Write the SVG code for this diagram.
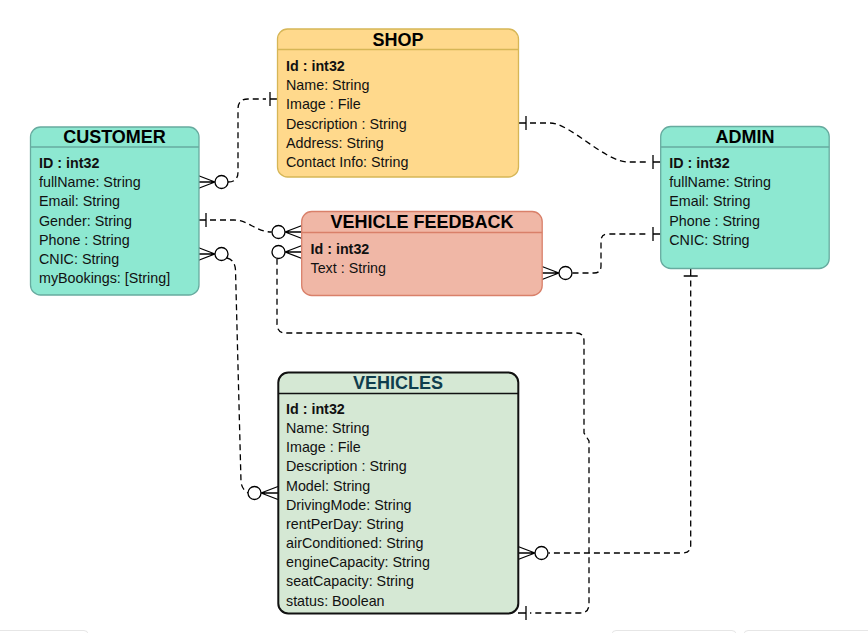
<svg xmlns="http://www.w3.org/2000/svg" xmlns:xlink="http://www.w3.org/1999/xlink" width="868" height="633" viewBox="0 0 868 633">
<style>
  .title { font-family: "Liberation Sans", Arial, sans-serif; font-weight: bold; font-size: 18px; fill: #000; text-anchor: middle; }
  .attr { font-family: "Liberation Sans", Arial, sans-serif; font-size: 14.3px; fill: #111; }
  .pk { font-weight: bold; }
  .conn { fill: none; stroke: #000; stroke-width: 1.3; stroke-dasharray: 6 4; }
  .mk { fill: none; stroke: #000; stroke-width: 1.3; }
  .circ { fill: #fff; stroke: #000; stroke-width: 1.3; }
  .shop { fill: #FFD98C; stroke: #D6B656; stroke-width: 1.3; }
  .teal { fill: #8DE8D1; stroke: #67AB9F; stroke-width: 1.3; }
  .fb { fill: #F0B7A6; stroke: #D9806A; stroke-width: 1.3; }
  .veh { fill: #D5E8D4; stroke: #111; stroke-width: 2; }
  .faint { fill: none; stroke: #e6e6e6; stroke-width: 1; }
</style>
<defs>
  <g id="zm">
    <path class="mk" d="M0 -6.5 L17 0 M0 0 L17 0 M0 6.5 L17 0"/>
    <circle class="circ" cx="23.5" cy="0" r="6.5"/>
  </g>
  <g id="one">
    <path class="mk" d="M0 0 L8 0 M8 -7 L8 7"/>
  </g>
</defs>
<rect width="868" height="633" fill="#fff"/>

<g id="connectors">
  <!-- Customer -> Shop -->
  <path class="conn" d="M228 182 Q238 182 238 172 L238 109 Q238 99 248 99 L266 99"/>
  <use xlink:href="#zm" transform="translate(198,182)"/>
  <use xlink:href="#one" transform="translate(278,99) rotate(180)"/>
  <!-- Customer -> Vehicle Feedback -->
  <path class="conn" d="M210 220 L234 220 C248 220 256 232 271.7 232"/>
  <use xlink:href="#one" transform="translate(198,220)"/>
  <use xlink:href="#zm" transform="translate(302,232) rotate(180)"/>
  <!-- Vehicles -> Vehicle Feedback -->
  <path class="conn" d="M277 258.8 L277 324 Q277 333 286 333 L576 333 Q584 333 584 341 L584 433 L589 441 L589 604 Q589 613 580 613 L530 613"/>
  <use xlink:href="#zm" transform="translate(302,252) rotate(180)"/>
  <use xlink:href="#one" transform="translate(518,613)"/>
  <!-- Customer -> Vehicles -->
  <path class="conn" d="M227 258 Q235 260 235.5 270 L241 482 Q242 490 248.5 493"/>
  <use xlink:href="#zm" transform="translate(198,254)"/>
  <use xlink:href="#zm" transform="translate(278,493) rotate(180)"/>
  <!-- Shop -> Admin -->
  <path class="conn" d="M530 123 L550 123 C570 123 605 162 628 162 L649 162"/>
  <use xlink:href="#one" transform="translate(518,123)"/>
  <use xlink:href="#one" transform="translate(661,162) rotate(180)"/>
  <!-- Vehicle Feedback -> Admin -->
  <path class="conn" d="M572.5 273 L594 273 Q601 273 601 266 L601 241 Q601 234 608 234 L649 234"/>
  <use xlink:href="#zm" transform="translate(542,273)"/>
  <use xlink:href="#one" transform="translate(661,234) rotate(180)"/>
  <!-- Admin -> Vehicles -->
  <path class="conn" d="M690.7 280.5 L690.7 545 Q690.7 553 683 553 L548.5 553"/>
  <use xlink:href="#one" transform="translate(690.7,268) rotate(90)"/>
  <use xlink:href="#zm" transform="translate(518,553)"/>
</g>

<g id="shop">
  <rect class="shop" x="277.5" y="29" width="241" height="148" rx="10"/>
  <line x1="277.5" y1="49.5" x2="518.5" y2="49.5" stroke="#D6B656" stroke-width="1.3"/>
  <text class="title" x="398" y="46">SHOP</text>
  <text class="attr pk" x="286" y="71">Id : int32</text>
  <text class="attr" x="286" y="90.2">Name: String</text>
  <text class="attr" x="286" y="109.4">Image : File</text>
  <text class="attr" x="286" y="128.6">Description : String</text>
  <text class="attr" x="286" y="147.8">Address: String</text>
  <text class="attr" x="286" y="167">Contact Info: String</text>
</g>

<g id="customer">
  <rect class="teal" x="30.5" y="127" width="168.5" height="168" rx="10"/>
  <line x1="30.5" y1="147" x2="199" y2="147" stroke="#67AB9F" stroke-width="1.3"/>
  <text class="title" x="114.5" y="142.5">CUSTOMER</text>
  <text class="attr pk" x="39" y="168">ID : int32</text>
  <text class="attr" x="39" y="187.2">fullName: String</text>
  <text class="attr" x="39" y="206.4">Email: String</text>
  <text class="attr" x="39" y="225.6">Gender: String</text>
  <text class="attr" x="39" y="244.8">Phone : String</text>
  <text class="attr" x="39" y="264">CNIC: String</text>
  <text class="attr" x="39" y="283.2">myBookings: [String]</text>
</g>

<g id="vehicle-feedback">
  <rect class="fb" x="301.7" y="211.5" width="240.5" height="84" rx="10"/>
  <line x1="301.7" y1="232.5" x2="542.2" y2="232.5" stroke="#D9806A" stroke-width="1.3"/>
  <text class="title" x="422" y="228">VEHICLE FEEDBACK</text>
  <text class="attr pk" x="310.5" y="254">Id : int32</text>
  <text class="attr" x="310.5" y="273.2">Text : String</text>
</g>

<g id="admin">
  <rect class="teal" x="660.7" y="126.5" width="168.5" height="142" rx="10"/>
  <line x1="660.7" y1="147" x2="829.2" y2="147" stroke="#67AB9F" stroke-width="1.3"/>
  <text class="title" x="745" y="142.5">ADMIN</text>
  <text class="attr pk" x="669.3" y="168">ID : int32</text>
  <text class="attr" x="669.3" y="187.2">fullName: String</text>
  <text class="attr" x="669.3" y="206.4">Email: String</text>
  <text class="attr" x="669.3" y="225.6">Phone : String</text>
  <text class="attr" x="669.3" y="244.8">CNIC: String</text>
</g>

<g id="vehicles">
  <rect class="veh" x="278.3" y="372.5" width="240" height="241" rx="10"/>
  <line x1="278.3" y1="393.5" x2="518.3" y2="393.5" stroke="#111" stroke-width="1.3"/>
  <text class="title" x="398" y="389" style="fill:#0F3D4D">VEHICLES</text>
  <text class="attr pk" x="286" y="414">Id : int32</text>
  <text class="attr" x="286" y="433.2">Name: String</text>
  <text class="attr" x="286" y="452.3">Image : File</text>
  <text class="attr" x="286" y="471.4">Description : String</text>
  <text class="attr" x="286" y="490.6">Model: String</text>
  <text class="attr" x="286" y="509.7">DrivingMode: String</text>
  <text class="attr" x="286" y="528.9">rentPerDay: String</text>
  <text class="attr" x="286" y="548">airConditioned: String</text>
  <text class="attr" x="286" y="567.2">engineCapacity: String</text>
  <text class="attr" x="286" y="586.3">seatCapacity: String</text>
  <text class="attr" x="286" y="605.5">status: Boolean</text>
</g>

<rect class="faint" x="-5" y="630.5" width="93" height="12" rx="4"/>
<rect class="faint" x="612" y="630.5" width="124" height="12" rx="4"/>
<rect class="faint" x="744" y="630.5" width="130" height="12" rx="4"/>
</svg>
